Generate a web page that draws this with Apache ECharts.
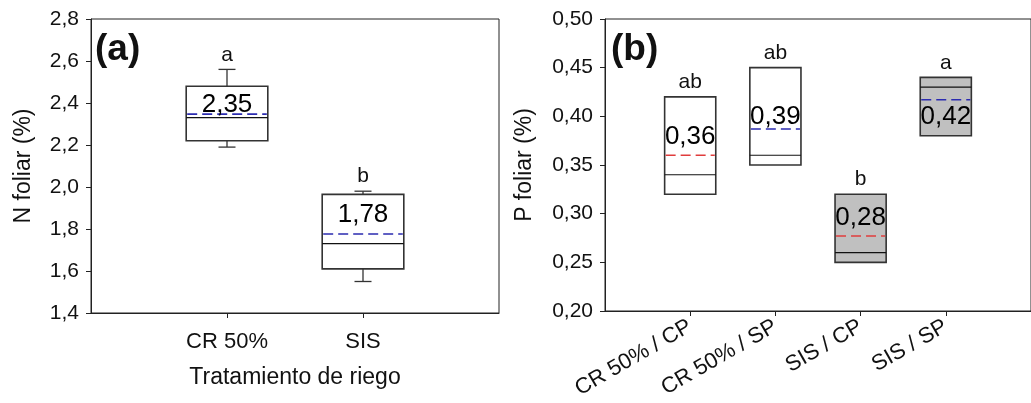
<!DOCTYPE html>
<html><head><meta charset="utf-8">
<script src="https://cdn.jsdelivr.net/npm/echarts@6/dist/echarts.min.js"></script>
<style>html,body{margin:0;padding:0;background:#fff}#c{width:1031px;height:403px}</style>
</head><body><div id="c"></div>
<script>
// ---------- Panel (a): N foliar ----------
const catsA = ['CR 50%', 'SIS'];
const minA = [2.19, 1.55];
const q1A = [2.22, 1.61];
const medA = [2.33, 1.73];
const q3A = [2.48, 1.965];
const maxA = [2.56, 1.98];
const meanA = [2.347, 1.776];
const lettersA = ['a', 'b'];
const meanLabelAtA = [2.389, 1.868];

// ---------- Panel (b): P foliar ----------
const catsB = ['CR 50% / CP', 'CR 50% / SP', 'SIS / CP', 'SIS / SP'];
const minB = [0.32, 0.35, 0.25, 0.38];
const q1B = [0.32, 0.35, 0.25, 0.38];
const medB = [0.34, 0.36, 0.26, 0.43];
const q3B = [0.42, 0.45, 0.32, 0.44];
const maxB = [0.42, 0.45, 0.32, 0.44];
const meanB = [0.360, 0.387, 0.277, 0.417];
const lettersB = ['ab', 'ab', 'b', 'a'];
const meanLabelAtB = [0.379, 0.399, 0.296, 0.399];

// ---------- styles ----------
const FONT = 'Liberation Sans, Arial, sans-serif';
const BLUE = '#2b2bb0', RED = '#e03c3c';
const fillA = ['#ffffff', '#ffffff'];
const meanColA = [BLUE, BLUE];
const fillB = ['#ffffff', '#ffffff', '#c0c0c0', '#c0c0c0'];
const meanColB = [RED, BLUE, RED, BLUE];

function fmt(v, d) { return v.toFixed(d).replace('.', ','); }

function makeRender(letters, labelAt, fills, meanCols) {
  return function (params, api) {
    const i = params.dataIndex;
    const x = api.value(0);
    const vMin = api.value(1), vQ1 = api.value(2), vMed = api.value(3),
          vQ3 = api.value(4), vMax = api.value(5), vMean = api.value(6);
    const L = api.coord([x - 0.3, vQ1])[0];
    const R = api.coord([x + 0.3, vQ1])[0];
    const C = api.coord([x, vQ1])[0];
    const y = v => api.coord([x, v])[1];
    const stroke = '#333';
    const ch = [];
    if (vMax > vQ3) {
      ch.push({ type: 'line', shape: { x1: C, y1: y(vQ3), x2: C, y2: y(vMax) }, style: { stroke, lineWidth: 1.3 } });
      ch.push({ type: 'line', shape: { x1: C - 8.5, y1: y(vMax), x2: C + 8.5, y2: y(vMax) }, style: { stroke, lineWidth: 1.3 } });
    }
    if (vMin < vQ1) {
      ch.push({ type: 'line', shape: { x1: C, y1: y(vQ1), x2: C, y2: y(vMin) }, style: { stroke, lineWidth: 1.3 } });
      ch.push({ type: 'line', shape: { x1: C - 8.5, y1: y(vMin), x2: C + 8.5, y2: y(vMin) }, style: { stroke, lineWidth: 1.3 } });
    }
    ch.push({ type: 'rect', shape: { x: L, y: y(vQ3), width: R - L, height: y(vQ1) - y(vQ3) },
      style: { fill: fills[i], stroke, lineWidth: 1.6 } });
    ch.push({ type: 'line', shape: { x1: L, y1: y(vMed), x2: R, y2: y(vMed) }, style: { stroke: '#111', lineWidth: 1.2 } });
    ch.push({ type: 'line', shape: { x1: L + 1, y1: y(vMean), x2: R - 1, y2: y(vMean) },
      style: { stroke: meanCols[i], lineWidth: 1.6, lineDash: [10, 5] } });
    ch.push({ type: 'text', x: C, y: y(labelAt[i]),
      style: { text: fmt(vMean, 2), fill: '#000', font: '26px ' + FONT, align: 'center', verticalAlign: 'middle' } });
    ch.push({ type: 'text', x: C, y: y(vMax) - 4,
      style: { text: letters[i], fill: '#111', font: '21px ' + FONT, align: 'center', verticalAlign: 'bottom' } });
    return { type: 'group', children: ch };
  };
}

const dataA = catsA.map((c, i) => [i + 1, minA[i], q1A[i], medA[i], q3A[i], maxA[i], meanA[i]]);
const dataB = catsB.map((c, i) => [i + 1, minB[i], q1B[i], medB[i], q3B[i], maxB[i], meanB[i]]);

const axisLine = { show: true, lineStyle: { color: '#222', width: 1 } };
const tick = { show: true, length: 5, lineStyle: { color: '#222' } };

const chart = echarts.init(document.getElementById('c'), null, { renderer: 'canvas' });
chart.setOption({
  animation: false,
  backgroundColor: '#fff',
  grid: [
    { left: 91, right: 532, top: 19, bottom: 90, show: true, borderColor: '#222', borderWidth: 1, containLabel: false },
    { left: 605, right: -9, top: 19, bottom: 92, show: true, borderColor: '#222', borderWidth: 1, containLabel: false }
  ],
  xAxis: [
    { gridIndex: 0, type: 'value', min: 0, max: 3, interval: 1, splitLine: { show: false },
      axisLine, axisTick: Object.assign({}, tick, { customValues: [1, 2] }),
      axisLabel: { customValues: [1, 2], formatter: v => catsA[Math.round(v) - 1] || '', color: '#111', fontSize: 22, fontFamily: FONT, margin: 18 },
      name: 'Tratamiento de riego', nameLocation: 'middle', nameGap: 53,
      nameTextStyle: { fontSize: 23, fontFamily: FONT, color: '#111' } },
    { gridIndex: 1, type: 'value', min: 0, max: 5, interval: 1, splitLine: { show: false },
      axisLine, axisTick: Object.assign({}, tick, { customValues: [1, 2, 3, 4] }),
      axisLabel: { customValues: [1, 2, 3, 4], rotate: 30, formatter: v => catsB[Math.round(v) - 1] || '', color: '#111', fontSize: 22, fontFamily: FONT, margin: 14 } }
  ],
  yAxis: [
    { gridIndex: 0, type: 'value', min: 1.4, max: 2.8, interval: 0.2, splitLine: { show: false },
      axisLine, axisTick: tick,
      axisLabel: { formatter: v => fmt(v, 1), color: '#111', fontSize: 21, fontFamily: FONT, margin: 12 },
      name: 'N foliar (%)', nameLocation: 'middle', nameGap: 56,
      nameTextStyle: { fontSize: 23, fontFamily: FONT, color: '#111' } },
    { gridIndex: 1, type: 'value', min: 0.2, max: 0.5, interval: 0.05, splitLine: { show: false },
      axisLine, axisTick: tick,
      axisLabel: { formatter: v => fmt(v, 2), color: '#111', fontSize: 21, fontFamily: FONT, margin: 12 },
      name: 'P foliar (%)', nameLocation: 'middle', nameGap: 69,
      nameTextStyle: { fontSize: 23, fontFamily: FONT, color: '#111' } }
  ],
  graphic: [
    { type: 'text', left: 95, top: 31, style: { text: '(a)', font: 'bold 37px ' + FONT, fill: '#111' } },
    { type: 'text', left: 611, top: 31, style: { text: '(b)', font: 'bold 37px ' + FONT, fill: '#111' } }
  ],
  series: [
    { type: 'custom', xAxisIndex: 0, yAxisIndex: 0, data: dataA, clip: false,
      renderItem: makeRender(lettersA, meanLabelAtA, fillA, meanColA) },
    { type: 'custom', xAxisIndex: 1, yAxisIndex: 1, data: dataB, clip: false,
      renderItem: makeRender(lettersB, meanLabelAtB, fillB, meanColB) }
  ]
});
</script>
</body></html>
